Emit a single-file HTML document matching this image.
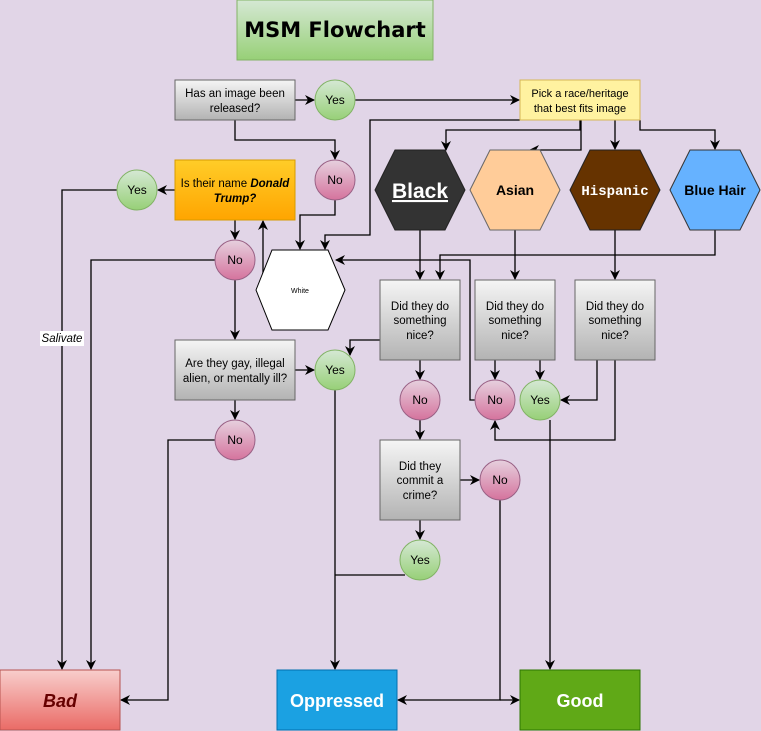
<!DOCTYPE html>
<html><head><meta charset="utf-8"><style>
html,body{margin:0;padding:0;background:#e1d5e7;}
svg{display:block;font-family:"Liberation Sans",sans-serif;}
</style></head><body>
<svg width="761" height="731" viewBox="0 0 761 731" xmlns="http://www.w3.org/2000/svg">
<defs>
<linearGradient id="gr" x1="0" y1="0" x2="0" y2="1"><stop offset="0" stop-color="#f5f5f5"/><stop offset="1" stop-color="#b3b3b3"/></linearGradient>
<linearGradient id="gn" x1="0" y1="0" x2="0" y2="1"><stop offset="0" stop-color="#d5e8d4"/><stop offset="1" stop-color="#97d077"/></linearGradient>
<linearGradient id="pk" x1="0" y1="0" x2="0" y2="1"><stop offset="0" stop-color="#e6d0de"/><stop offset="1" stop-color="#d5739d"/></linearGradient>
<linearGradient id="or" x1="0" y1="0" x2="0" y2="1"><stop offset="0" stop-color="#ffcd28"/><stop offset="1" stop-color="#ffa500"/></linearGradient>
<linearGradient id="rd" x1="0" y1="0" x2="0" y2="1"><stop offset="0" stop-color="#f8cecc"/><stop offset="1" stop-color="#ea6b66"/></linearGradient>
<marker id="a" markerWidth="10" markerHeight="10" refX="9" refY="5" orient="auto" markerUnits="userSpaceOnUse"><path d="M0,0 L10,5 L0,10 L3,5 Z" fill="#000"/></marker>
</defs>
<rect width="761" height="731" fill="#e1d5e7"/>
<g fill="none" stroke="#000" stroke-width="1.3">
<path d="M295,100 H314" marker-end="url(#a)"/>
<path d="M355,100 H519" marker-end="url(#a)"/>
<path d="M235,120 V140 H335 V159" marker-end="url(#a)"/>
<path d="M335,200 V215 H300 V249" marker-end="url(#a)"/>
<path d="M520,120 H370 V235 H325 V249" marker-end="url(#a)"/>
<path d="M580,120 V130 H446 V150" marker-end="url(#a)"/>
<path d="M581,120 V150 H530" marker-end="url(#a)"/>
<path d="M615,120 V149" marker-end="url(#a)"/>
<path d="M640,120 V130 H715 V149" marker-end="url(#a)"/>
<path d="M175,190 H158" marker-end="url(#a)"/>
<path d="M117,190 H62 V669" marker-end="url(#a)"/>
<path d="M235,220 V239" marker-end="url(#a)"/>
<path d="M215,260 H91 V669" marker-end="url(#a)"/>
<path d="M235,280 V339" marker-end="url(#a)"/>
<path d="M263,275 V221" marker-end="url(#a)"/>
<path d="M420,230 V279" marker-end="url(#a)"/>
<path d="M715,230 V255 H440 V279" marker-end="url(#a)"/>
<path d="M475,400 H470 V260 H336" marker-end="url(#a)"/>
<path d="M515,230 V279" marker-end="url(#a)"/>
<path d="M615,230 V279" marker-end="url(#a)"/>
<path d="M380,340 H350 V355" marker-end="url(#a)"/>
<path d="M295,370 H314" marker-end="url(#a)"/>
<path d="M335,390 V669" marker-end="url(#a)"/>
<path d="M235,400 V419" marker-end="url(#a)"/>
<path d="M215,440 H168 V700 H121" marker-end="url(#a)"/>
<path d="M420,360 V379" marker-end="url(#a)"/>
<path d="M420,420 V439" marker-end="url(#a)"/>
<path d="M460,480 H479" marker-end="url(#a)"/>
<path d="M420,520 V539" marker-end="url(#a)"/>
<path d="M405,575 H335"/>
<path d="M495,360 V379" marker-end="url(#a)"/>
<path d="M540,360 V379" marker-end="url(#a)"/>
<path d="M597,360 V400 H561" marker-end="url(#a)"/>
<path d="M615,360 V440 H495 V421" marker-end="url(#a)"/>
<path d="M550,420 V669" marker-end="url(#a)"/>
<path d="M500,500 V700 H398" marker-end="url(#a)"/>
<path d="M500,700 H519" marker-end="url(#a)"/>
</g>
<rect x="237" y="0" width="196" height="60" fill="url(#gn)" stroke="#82b366"/>
<text x="335" y="37" text-anchor="middle" font-size="21" font-weight="bold" font-family="DejaVu Sans,sans-serif">MSM  Flowchart</text>
<rect x="175" y="80" width="120" height="40" fill="url(#gr)" stroke="#666"/>
<text x="235" y="97" text-anchor="middle" font-size="11.5">Has an image been</text>
<text x="235" y="112" text-anchor="middle" font-size="11.5">released?</text>
<rect x="520" y="80" width="120" height="40" fill="#fff2a0" stroke="#d6b656"/>
<text x="580" y="97" text-anchor="middle" font-size="11">Pick a race/heritage</text>
<text x="580" y="112" text-anchor="middle" font-size="11">that best fits image</text>
<rect x="175" y="160" width="120" height="60" fill="url(#or)" stroke="#d79b00"/>
<text x="235" y="187" text-anchor="middle" font-size="11.5">Is their name <tspan font-weight="bold" font-style="italic">Donald</tspan></text>
<text x="235" y="202" text-anchor="middle" font-size="11.5" font-weight="bold" font-style="italic">Trump?</text>
<polygon points="375,190 395,150 445,150 465,190 445,230 395,230" fill="#333" stroke="#222"/>
<text x="420" y="198" text-anchor="middle" font-size="21" font-weight="bold" fill="#fff" text-decoration="underline">Black</text>
<polygon points="470,190 490,150 540,150 560,190 540,230 490,230" fill="#ffcc99" stroke="#666"/>
<text x="515" y="195" text-anchor="middle" font-size="14" font-weight="bold">Asian</text>
<polygon points="570,190 590,150 640,150 660,190 640,230 590,230" fill="#663300" stroke="#222"/>
<text x="615" y="195" text-anchor="middle" font-size="14" font-weight="bold" fill="#fff" font-family="Liberation Mono,monospace">Hispanic</text>
<polygon points="670,190 690,150 740,150 760,190 740,230 690,230" fill="#66b2ff" stroke="#333"/>
<text x="715" y="195" text-anchor="middle" font-size="14" font-weight="bold">Blue Hair</text>
<polygon points="256,290 272,250 328,250 345,290 328,330 272,330" fill="#fff" stroke="#000"/>
<text x="300" y="293" text-anchor="middle" font-size="7">White</text>
<rect x="175" y="340" width="120" height="60" fill="url(#gr)" stroke="#666"/>
<text x="235" y="367" text-anchor="middle" font-size="11.5">Are they gay, illegal</text>
<text x="235" y="382" text-anchor="middle" font-size="11.5">alien, or mentally ill?</text>
<g font-size="11.5" text-anchor="middle">
<rect x="380" y="280" width="80" height="80" fill="url(#gr)" stroke="#666"/>
<text x="420" y="310">Did they do</text><text x="420" y="324">something</text><text x="420" y="339">nice?</text>
<rect x="475" y="280" width="80" height="80" fill="url(#gr)" stroke="#666"/>
<text x="515" y="310">Did they do</text><text x="515" y="324">something</text><text x="515" y="339">nice?</text>
<rect x="575" y="280" width="80" height="80" fill="url(#gr)" stroke="#666"/>
<text x="615" y="310">Did they do</text><text x="615" y="324">something</text><text x="615" y="339">nice?</text>
<rect x="380" y="440" width="80" height="80" fill="url(#gr)" stroke="#666"/>
<text x="420" y="470">Did they</text><text x="420" y="484">commit a</text><text x="420" y="499">crime?</text>
</g>
<g font-size="12" text-anchor="middle">
<circle cx="335" cy="100" r="20" fill="url(#gn)" stroke="#82b366"/><text x="335" y="104">Yes</text>
<circle cx="335" cy="180" r="20" fill="url(#pk)" stroke="#996185"/><text x="335" y="184">No</text>
<circle cx="137" cy="190" r="20" fill="url(#gn)" stroke="#82b366"/><text x="137" y="194">Yes</text>
<circle cx="235" cy="260" r="20" fill="url(#pk)" stroke="#996185"/><text x="235" y="264">No</text>
<circle cx="335" cy="370" r="20" fill="url(#gn)" stroke="#82b366"/><text x="335" y="374">Yes</text>
<circle cx="235" cy="440" r="20" fill="url(#pk)" stroke="#996185"/><text x="235" y="444">No</text>
<circle cx="420" cy="400" r="20" fill="url(#pk)" stroke="#996185"/><text x="420" y="404">No</text>
<circle cx="495" cy="400" r="20" fill="url(#pk)" stroke="#996185"/><text x="495" y="404">No</text>
<circle cx="540" cy="400" r="20" fill="url(#gn)" stroke="#82b366"/><text x="540" y="404">Yes</text>
<circle cx="500" cy="480" r="20" fill="url(#pk)" stroke="#996185"/><text x="500" y="484">No</text>
<circle cx="420" cy="560" r="20" fill="url(#gn)" stroke="#82b366"/><text x="420" y="564">Yes</text>
</g>
<rect x="40" y="331" width="44" height="15" fill="#fff"/>
<text x="62" y="342" text-anchor="middle" font-size="11.5" font-style="italic">Salivate</text>
<rect x="0" y="670" width="120" height="60" fill="url(#rd)" stroke="#b85450"/>
<text x="60" y="707" text-anchor="middle" font-size="18" font-weight="bold" font-style="italic" fill="#660000">Bad</text>
<rect x="277" y="670" width="120" height="60" fill="#1ba1e2" stroke="#006eaf"/>
<text x="337" y="707" text-anchor="middle" font-size="18" font-weight="bold" fill="#fff">Oppressed</text>
<rect x="520" y="670" width="120" height="60" fill="#60a917" stroke="#2d7600"/>
<text x="580" y="707" text-anchor="middle" font-size="18" font-weight="bold" fill="#fff">Good</text>
</svg>
</body></html>
